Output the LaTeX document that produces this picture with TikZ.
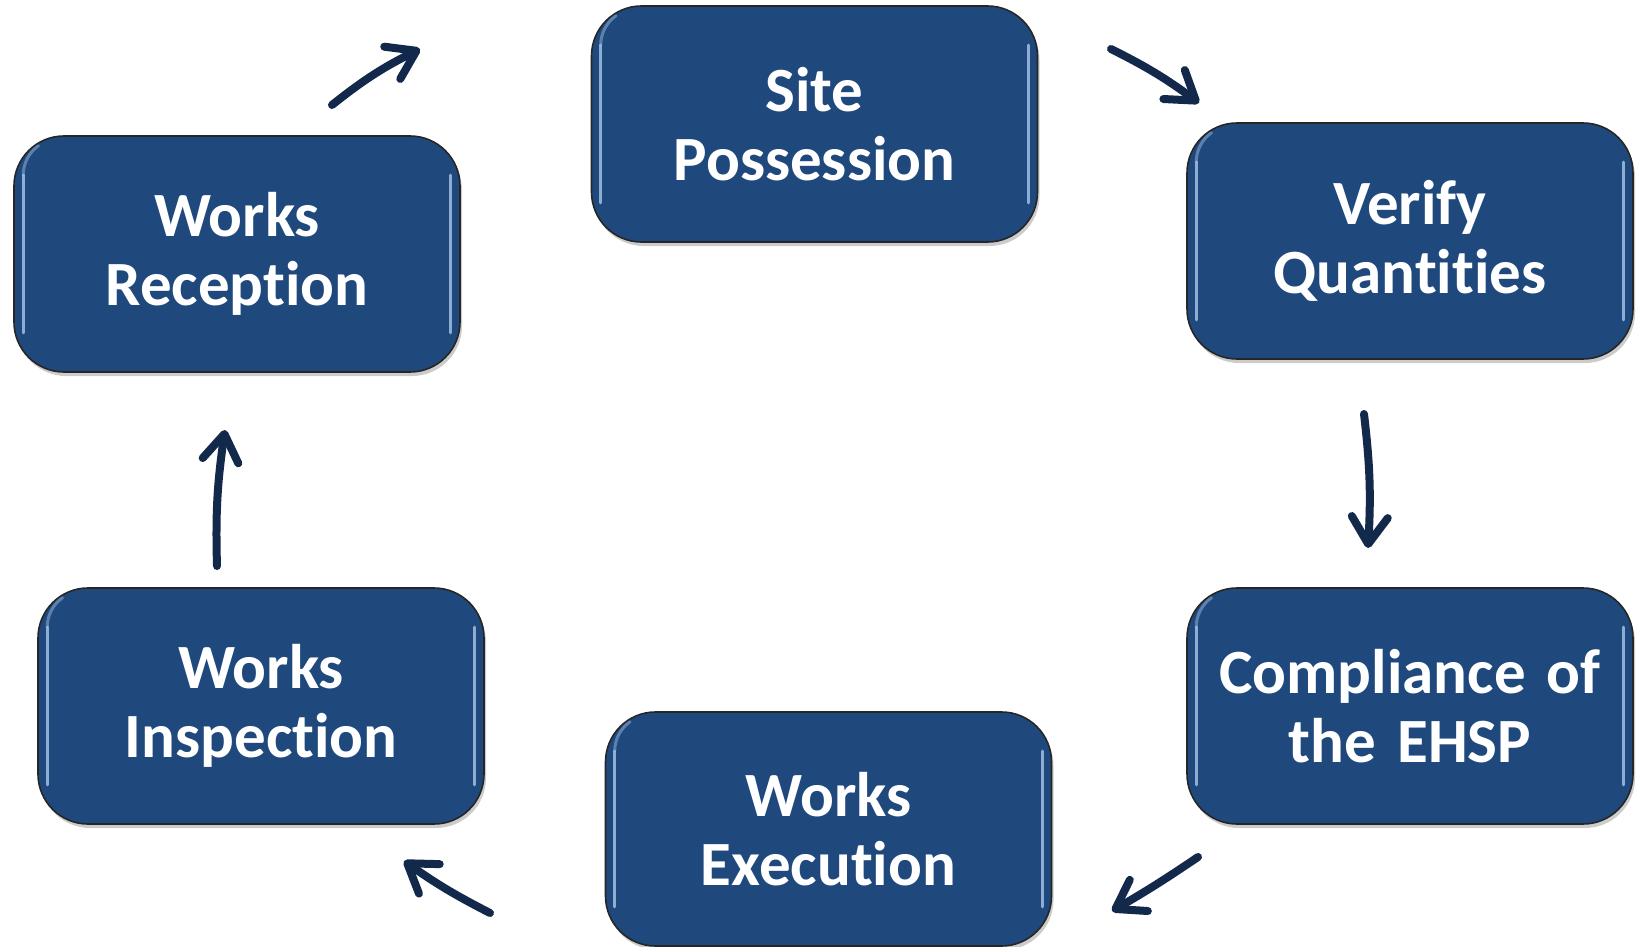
\documentclass[tikz,border=0pt]{standalone}
\usepackage{fontspec}
\setmainfont{Carlito}[Ligatures={NoCommon}]
\usetikzlibrary{arrows.meta,shadows}
\definecolor{boxblue}{HTML}{1F497D}
\definecolor{arrowblue}{HTML}{13294B}
\definecolor{hilite}{HTML}{A9C6EC}
\tikzset{
  stage/.style={rounded corners=50pt, fill=boxblue, draw=black!85, line width=1.6pt,
    minimum width=446pt, minimum height=236pt, text width=430pt, align=center,
    text=white, font=\bfseries\fontsize{63}{69}\selectfont,
    drop shadow={shadow xshift=2pt, shadow yshift=-4pt, opacity=0.2, fill=black}},
  flow/.style={draw=arrowblue, line width=8pt, line cap=round, line join=round,
    -{Straight Barb[length=27pt, width=36pt, round]}},
  shine/.style={draw=hilite, line width=3pt, line cap=round, opacity=0.8}
}
\newcommand{\shinebox}[1]{%
  \draw[shine] ([xshift=10pt,yshift=-40pt]#1.north west) -- ([xshift=10pt,yshift=40pt]#1.south west);
  \draw[shine] ([xshift=-10pt,yshift=-40pt]#1.north east) -- ([xshift=-10pt,yshift=40pt]#1.south east);
  \draw[shine, opacity=0.45] ([xshift=10pt,yshift=-40pt]#1.north west) arc[start angle=180, end angle=125, radius=36pt];
}
\begin{document}
\begin{tikzpicture}[x=1pt,y=-1pt]
\useasboundingbox (0,0) rectangle (1641,947);
\node[stage] (sp) at (814.5,124) {\raisebox{3pt}{\parbox[c]{430pt}{\centering Site\\Possession}}};
\node[stage] (vq) at (1410,241) {\raisebox{3pt}{\parbox[c]{430pt}{\centering Verify\\Quantities}}};
\node[stage] (ce) at (1410,706) {\raisebox{3pt}{\parbox[c]{430pt}{\centering Compliance of\\the EHSP}}};
\node[stage, minimum height=234pt] (we) at (828.5,829) {\raisebox{3pt}{\parbox[c]{430pt}{\centering Works\\Execution}}};
\node[stage] (wi) at (261,706) {\raisebox{3pt}{\parbox[c]{430pt}{\centering Works\\Inspection}}};
\node[stage] (wr) at (237,254) {\raisebox{3pt}{\parbox[c]{430pt}{\centering Works\\Reception}}};
\foreach \b in {sp,vq,ce,we,wi,wr}{\shinebox{\b}}
\coordinate (a1s) at (332,105); \coordinate (a1e) at (420,49);
\coordinate (a2s) at (1111,49); \coordinate (a2e) at (1199,103);
\coordinate (a3s) at (1364,414); \coordinate (a3e) at (1368,548);
\coordinate (a4s) at (1198,857); \coordinate (a4e) at (1112,911);
\coordinate (a5s) at (490,913); \coordinate (a5e) at (404,861);
\coordinate (a6s) at (217,566); \coordinate (a6e) at (225,430);
\draw[flow] (a1s) to[bend left=6] (a1e);
\draw[flow] (a2s) to[bend left=5] (a2e);
\draw[flow] (a3s) to[bend left=5] (a3e);
\draw[flow] (a4s) to[bend left=2] (a4e);
\draw[flow] (a5s) to[bend left=4] (a5e);
\draw[flow] (a6s) to[bend left=5] (a6e);
\end{tikzpicture}
\end{document}
